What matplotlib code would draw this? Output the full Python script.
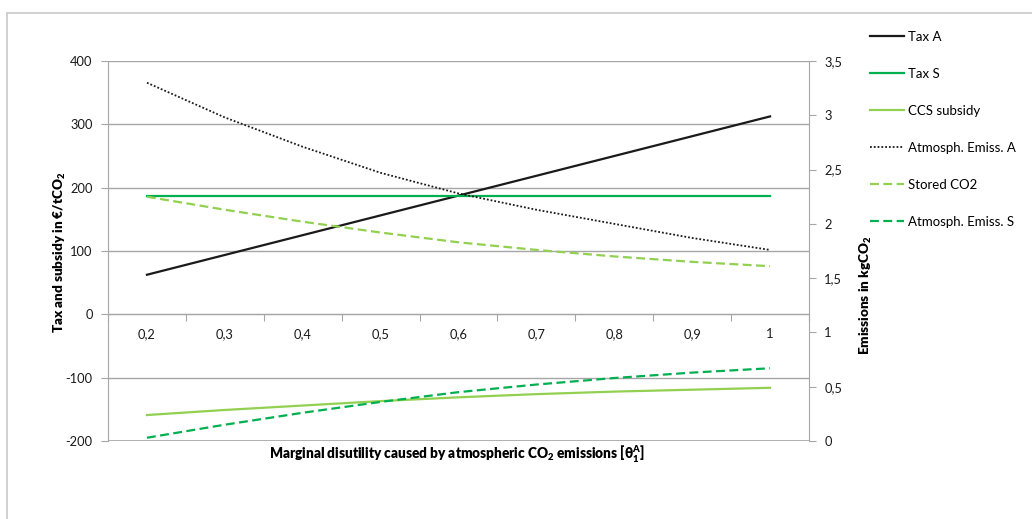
import matplotlib
matplotlib.use("Agg")
import matplotlib.pyplot as plt
from matplotlib.patches import Rectangle
import numpy as np

plt.rcParams['font.family'] = ['Lato', 'DejaVu Sans']
plt.rcParams['mathtext.default'] = 'regular'

# marginal disutility theta (categories)
theta_labels = ['0,2', '0,3', '0,4', '0,5', '0,6', '0,7', '0,8', '0,9', '1']

# left axis: tax and subsidy in EUR/tCO2
tax_a = [62.5, 93.75, 125, 156.25, 187.5, 218.75, 250, 281.25, 312.5]
tax_s = [187.5, 187.5, 187.5, 187.5, 187.5, 187.5, 187.5, 187.5, 187.5]
ccs_subsidy = [-159, -151, -144, -137, -131, -126, -122, -119, -116]

# right axis: emissions in kgCO2
atm_emiss_a = [3.30, 2.98, 2.71, 2.47, 2.28, 2.13, 2.00, 1.87, 1.76]
stored_co2 = [2.25, 2.13, 2.02, 1.92, 1.83, 1.76, 1.70, 1.65, 1.61]
atm_emiss_s = [0.03, 0.15, 0.26, 0.36, 0.45, 0.52, 0.58, 0.63, 0.67]

black = '#1a1a1a'
green = '#00b050'
light_green = '#92d050'
grid_col = '#a6a6a6'
txt_col = '#1a1a1a'

fig = plt.figure(figsize=(10.32, 5.19), dpi=100)
fig.patches.append(Rectangle((7 / 1032, -0.1), 1.2, 1 - 13 / 519 + 0.1,
                             transform=fig.transFigure, fill=False,
                             edgecolor='#c8c8c8', lw=1.2))

ax = fig.add_axes([108 / 1032, 1 - 441 / 519, 701 / 1032, 380 / 519])
ax2 = ax.twinx()

x = np.arange(len(theta_labels))

l1, = ax.plot(x, tax_a, color=black, lw=1.6, label='Tax A')
l2, = ax.plot(x, tax_s, color=green, lw=1.6, label='Tax S')
l3, = ax.plot(x, ccs_subsidy, color=light_green, lw=1.6, label='CCS subsidy')
l4, = ax2.plot(x, atm_emiss_a, color=black, lw=1.3, ls=(0, (1, 1.1)),
               label='Atmosph. Emiss. A')
l5, = ax2.plot(x, stored_co2, color=light_green, lw=1.6, ls=(0, (4, 2)),
               label='Stored CO2')
l6, = ax2.plot(x, atm_emiss_s, color=green, lw=1.6, ls=(0, (4, 2)),
               label='Atmosph. Emiss. S')

ax.set_xlim(-0.5, len(theta_labels) - 0.5)
ax.set_ylim(-200, 400)
ax2.set_ylim(0, 3.5)

ax.set_yticks(np.arange(-200, 401, 100))
ax.set_yticklabels([str(v) for v in range(-200, 401, 100)])
ax2.set_yticks(np.arange(0, 3.51, 0.5))
ax2.set_yticklabels(['0', '0,5', '1', '1,5', '2', '2,5', '3', '3,5'])

for a in (ax, ax2):
    a.spines['top'].set_visible(False)
    for s in a.spines.values():
        s.set_color(grid_col)
ax.spines['right'].set_visible(False)
ax2.spines['left'].set_visible(False)
ax2.spines['bottom'].set_visible(False)
ax.spines['bottom'].set_position(('data', 0))

ax.yaxis.grid(True, color=grid_col, lw=1)
ax.set_axisbelow(True)
ax.axhline(-200, color=grid_col, lw=1.2, zorder=0)

# category boundaries as tick marks, labels at category centers
ax.set_xticks(np.arange(-0.5, len(theta_labels), 1.0))
ax.set_xticklabels([])
ax.set_xticks(x, minor=True)
ax.set_xticklabels(theta_labels, minor=True)
ax.tick_params(axis='x', which='major', length=5, color=grid_col, direction='out')
ax.tick_params(axis='x', which='minor', length=0, pad=10, labelsize=9.3,
               labelcolor=txt_col)
ax.tick_params(axis='y', length=5, color=grid_col, pad=6, labelsize=9.3,
               labelcolor=txt_col)
ax2.tick_params(axis='y', length=5, color=grid_col, pad=6, labelsize=9.3,
                labelcolor=txt_col)

fig.text(60 / 1032, 1 - 252 / 519, 'Tax and subsidy in €/tCO$_2$', rotation=90,
         ha='center', va='center', fontsize=9.7, fontweight='heavy', color='#000000')
fig.text(866 / 1032, 1 - 295 / 519, 'Emissions in kgCO$_2$', rotation=90,
         ha='center', va='center', fontsize=9.7, fontweight='heavy', color='#000000')
fig.text(457 / 1032, 1 - 454 / 519,
         'Marginal disutility caused by atmospheric CO$_2$ emissions [$\\theta_1^A$]',
         ha='center', va='center', fontsize=9.8, fontweight='heavy', color='#000000')

fig.legend(handles=[l1, l2, l3, l4, l5, l6],
           loc='upper left', bbox_to_anchor=(863 / 1032, 1 - 24 / 519),
           frameon=False, fontsize=9.5, handlelength=2.6, handletextpad=0.3,
           labelspacing=1.9, borderpad=0)

fig.savefig('out.png', dpi=100)
